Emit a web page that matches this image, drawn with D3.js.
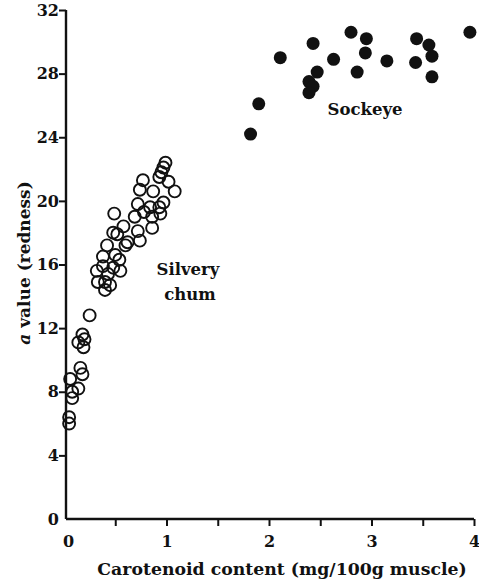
<!DOCTYPE html>
<html>
<head>
<meta charset="utf-8">
<script src="https://cdn.jsdelivr.net/npm/d3@7"></script>
<style>
  body { margin: 0; background: #fff; }
  svg { display: block; }
  text { font-family: "DejaVu Serif", serif; fill: #111; font-weight: bold; }
</style>
</head>
<body>
<svg id="chart" width="479" height="580"></svg>
<script>
// silvery chum (open circles): carotenoid mg/100g, a value
const chumX = [0.99, 0.97, 0.95, 0.93, 1.02, 1.08, 0.77, 0.74, 0.87, 0.97, 0.93, 0.72,
  0.78, 0.84, 0.86, 0.94, 0.69, 0.49, 0.58, 0.86, 0.72, 0.48, 0.52, 0.74, 0.62, 0.60,
  0.42, 0.50, 0.38, 0.54, 0.55, 0.48, 0.38, 0.32, 0.43, 0.33, 0.40, 0.45, 0.40, 0.25,
  0.18, 0.14, 0.20, 0.19, 0.16, 0.18, 0.06, 0.14, 0.08, 0.08, 0.05, 0.05];
const chumY = [22.4, 22.1, 21.8, 21.5, 21.2, 20.6, 21.3, 20.7, 20.6, 19.9, 19.6, 19.8,
  19.3, 19.6, 19.0, 19.2, 19.0, 19.2, 18.4, 18.3, 18.1, 18.0, 17.9, 17.5, 17.4, 17.2,
  17.2, 16.6, 16.5, 16.3, 15.6, 15.8, 15.9, 15.6, 15.4, 14.9, 14.9, 14.7, 14.4, 12.8,
  11.6, 11.1, 11.3, 10.8, 9.5, 9.1, 8.8, 8.2, 8.0, 7.6, 6.4, 6.0];
// sockeye (filled circles)
const sockX = [1.82, 1.90, 2.11, 2.43, 2.47, 2.39, 2.43, 2.39, 2.63, 2.80, 2.95, 2.94,
  2.86, 3.15, 3.44, 3.56, 3.59, 3.43, 3.59, 3.96];
const sockY = [24.2, 26.1, 29.0, 29.9, 28.1, 27.5, 27.2, 26.8, 28.9, 30.6, 30.2, 29.3,
  28.1, 28.8, 30.2, 29.8, 29.1, 28.7, 27.8, 30.6];
const xTicks = [0, 1, 2, 3, 4];
const xMinor = [0.5, 1.5, 2.5, 3.5];
const yTicks = [0, 4, 8, 12, 16, 20, 24, 28, 32];

const svg = d3.select("#chart");
const x = d3.scaleLinear().domain([0, 4]).range([64, 474]);
const y = d3.scaleLinear().domain([0, 32]).range([519, 10]);

// axes
const xAxis = svg.append("g")
  .attr("transform", `translate(0,${y(0)})`)
  .call(d3.axisBottom(x).tickValues(xTicks.concat(xMinor)).tickSize(7)
    .tickFormat(d => xTicks.includes(d) ? d : ""));
const yAxis = svg.append("g")
  .attr("transform", `translate(${x(0) + 2},0)`)
  .call(d3.axisLeft(y).tickValues(yTicks).tickSize(7));

[xAxis, yAxis].forEach(g => {
  g.select(".domain").attr("stroke", "#111").attr("stroke-width", 2.4)
  g.selectAll(".tick line").attr("stroke", "#111").attr("stroke-width", 2)
  g.selectAll(".tick text").style("font-family", "DejaVu Serif, serif")
    .style("font-size", "16px").style("font-weight", "bold").attr("fill", "#111")
});
xAxis.select(".domain").attr("d", `M${x(0) + 2},0H${x(4)}`);
xAxis.selectAll(".tick").filter(d => d === 0).select("line").remove();
xAxis.selectAll(".tick text").attr("dy", "1.15em");
xAxis.selectAll(".tick").filter(d => d === 0).select("text").attr("x", 4);
yAxis.select(".domain").attr("d", `M0,${y(0)}V${y(32)}`);
yAxis.selectAll(".tick").filter(d => d === 0).select("line").remove();
yAxis.selectAll(".tick text").attr("x", -7);

// points
svg.append("g").selectAll("circle")
  .data(d3.zip(chumX, chumY))
  .join("circle")
  .attr("cx", d => x(d[0])).attr("cy", d => y(d[1]))
  .attr("r", 6)
  .attr("fill", "none").attr("stroke", "#111").attr("stroke-width", 1.9);

svg.append("g").selectAll("circle")
  .data(d3.zip(sockX, sockY))
  .join("circle")
  .attr("cx", d => x(d[0])).attr("cy", d => y(d[1]))
  .attr("r", 6.5)
  .attr("fill", "#111");

// labels
svg.append("text").attr("x", 365).attr("y", 115).attr("text-anchor", "middle")
  .style("font-size", "16.5px").text("Sockeye");
svg.append("text").attr("x", 188).attr("y", 275).attr("text-anchor", "middle")
  .style("font-size", "16.5px").text("Silvery");
svg.append("text").attr("x", 190).attr("y", 300).attr("text-anchor", "middle")
  .style("font-size", "16.5px").text("chum");

svg.append("text").attr("x", 282).attr("y", 575).attr("text-anchor", "middle")
  .style("font-size", "17.3px").text("Carotenoid content (mg/100g muscle)");

const yt = svg.append("text")
  .attr("transform", "translate(30,263) rotate(-90)")
  .attr("text-anchor", "middle").style("font-size", "17px");
yt.append("tspan").style("font-style", "italic").text("a");
yt.append("tspan").text(" value (redness)");
</script>
</body>
</html>
